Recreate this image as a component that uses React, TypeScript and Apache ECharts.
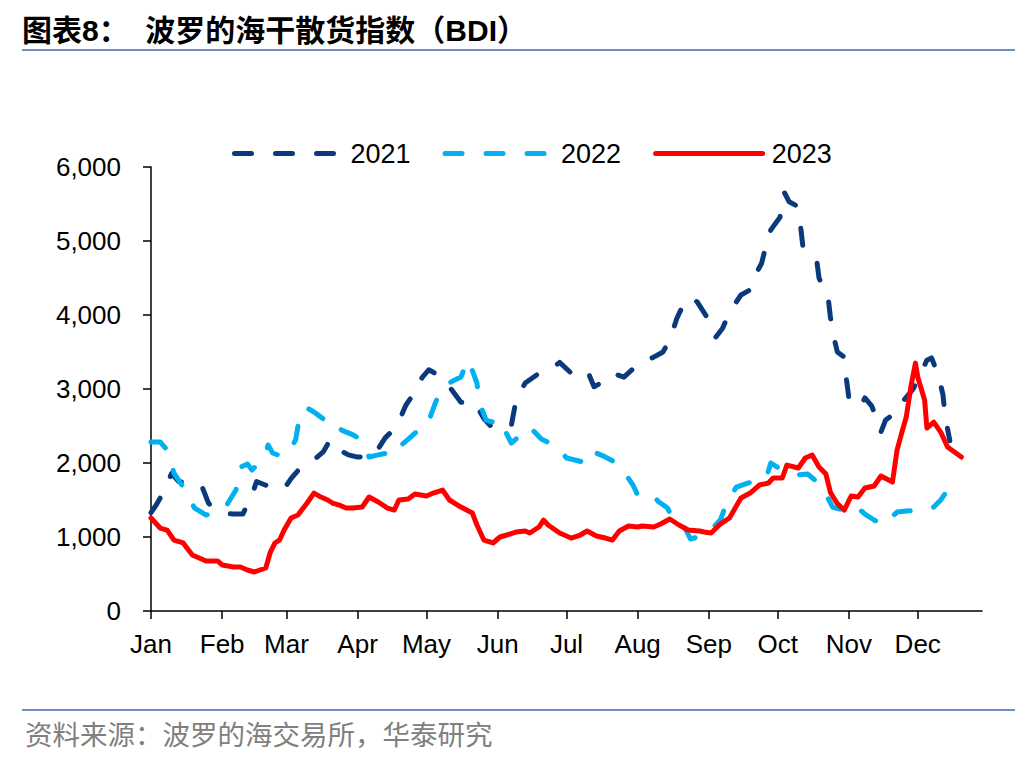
import React, { useEffect, useRef } from "react";
import * as echarts from "echarts";

const monthNames = ["Jan", "Feb", "Mar", "Apr", "May", "Jun", "Jul", "Aug", "Sep", "Oct", "Nov", "Dec"];
const monthStarts = [0, 31, 59, 90, 120, 151, 181, 212, 243, 273, 304, 334];
const lastDay = 362;
const yTicks = [0, 1000, 2000, 3000, 4000, 5000, 6000];

const s2021: [number, number][] = [
  [0, 1330], [2, 1420], [5, 1580], [9, 1860], [12, 1750], [16, 1730], [22, 1700], [25, 1460], [28, 1360],
  [32, 1320], [36, 1310], [40, 1310], [44, 1570], [46, 1750], [50, 1700], [54, 1680], [58, 1650], [61, 1790],
  [66, 1970], [72, 2070], [75, 2150], [78, 2310], [82, 2175], [86, 2110], [90, 2080], [97, 2095], [102, 2340],
  [107, 2490], [111, 2780], [115, 2960], [118, 3150], [121, 3260], [125, 3190], [130, 3030], [135, 2820],
  [141, 2820], [145, 2600], [148, 2500], [151, 2450], [157, 2510], [159, 2850], [163, 3080], [168, 3190],
  [172, 3215], [178, 3360], [183, 3215], [190, 3256], [193, 3030], [197, 3100], [201, 3215], [206, 3160],
  [213, 3360], [219, 3430], [223, 3500], [226, 3660], [229, 3950], [232, 4150], [235, 4240], [238, 4175],
  [243, 3930], [246, 3700], [249, 3820], [252, 4040], [257, 4270], [261, 4340], [262, 4470], [266, 4700],
  [268, 4950], [270, 5150], [274, 5320], [276, 5650], [278, 5530], [281, 5480], [283, 5190], [284, 4920],
  [287, 4850], [290, 4740], [291, 4500], [295, 4230], [296, 3960], [298, 3630], [299, 3500], [302, 3430],
  [303, 3120], [304, 2880], [306, 2800], [309, 2760], [311, 2880], [314, 2770], [316, 2600], [318, 2420],
  [320, 2580], [323, 2650], [326, 2720], [328, 2850], [332, 3000], [335, 3190], [338, 3390], [340, 3420],
  [343, 3190], [345, 2920], [346, 2620], [348, 2300],
];

const s2022: [number, number][] = [
  [0, 2284], [4, 2284], [7, 2175], [10, 1864], [14, 1675], [17, 1500], [19, 1391], [24, 1297], [29, 1330],
  [33, 1432], [37, 1635], [39, 1945], [42, 1986], [44, 1905], [47, 2000], [50, 2135], [51, 2243], [53, 2135],
  [56, 2100], [59, 2108], [63, 2310], [65, 2680], [68, 2743], [71, 2689], [74, 2620], [77, 2553], [79, 2580],
  [83, 2445], [88, 2380], [92, 2310], [95, 2081], [99, 2110], [103, 2135], [106, 2108], [108, 2216],
  [112, 2320], [115, 2405], [120, 2486], [124, 2824], [127, 3026], [131, 3100], [135, 3162], [138, 3390],
  [140, 3250], [142, 3080], [143, 2824], [146, 2580], [149, 2553], [151, 2600], [154, 2450], [157, 2270],
  [162, 2405], [165, 2486], [170, 2324], [173, 2280], [177, 2229], [181, 2067], [186, 2030], [190, 2000],
  [192, 2148], [194, 2135], [198, 2080], [202, 2013], [207, 1837], [210, 1700], [212, 1567], [218, 1581],
  [221, 1480], [225, 1391], [227, 1270], [230, 1229], [233, 1100], [235, 973], [240, 1013], [244, 1100],
  [248, 1229], [251, 1473], [255, 1675], [260, 1729], [264, 1760], [268, 1797], [270, 2000], [275, 1900],
  [280, 1837], [286, 1851], [290, 1750], [293, 1635], [297, 1400], [301, 1370], [304, 1337], [308, 1391],
  [311, 1310], [315, 1230], [319, 1162], [322, 1250], [325, 1337], [329, 1350], [334, 1364], [338, 1364],
  [341, 1405], [344, 1500], [347, 1635], [348, 1729], [351, 1608],
];

const s2023: [number, number][] = [
  [0, 1257], [4, 1121], [7, 1094], [10, 959], [14, 919], [18, 757], [21, 716], [24, 676], [29, 676],
  [31, 622], [36, 594], [39, 594], [42, 554], [45, 527], [50, 581], [52, 797], [54, 919], [56, 959],
  [58, 1094], [61, 1257], [64, 1297], [68, 1459], [71, 1594], [74, 1540], [77, 1500], [79, 1459],
  [82, 1432], [85, 1391], [88, 1391], [92, 1405], [95, 1540], [99, 1473], [103, 1391], [106, 1364],
  [108, 1500], [112, 1513], [115, 1581], [120, 1554], [123, 1594], [127, 1635], [130, 1500], [135, 1405],
  [140, 1324], [142, 1162], [145, 959], [149, 919], [152, 1000], [155, 1027], [159, 1067], [163, 1081],
  [165, 1054], [169, 1135], [171, 1229], [173, 1162], [178, 1054], [183, 986], [187, 1027], [190, 1081],
  [194, 1013], [198, 986], [201, 959], [204, 1081], [208, 1148], [212, 1135], [214, 1148], [219, 1135],
  [222, 1175], [226, 1243], [230, 1162], [234, 1094], [239, 1081], [241, 1067], [244, 1054], [248, 1175],
  [252, 1257], [257, 1527], [261, 1594], [265, 1702], [269, 1729], [271, 1797], [275, 1797], [277, 1972],
  [282, 1932], [285, 2067], [288, 2108], [291, 1945], [294, 1850], [296, 1600], [299, 1450], [302, 1364],
  [305, 1554], [308, 1540], [311, 1662], [315, 1689], [318, 1824], [323, 1743], [325, 2175], [327, 2405],
  [329, 2621], [331, 3026], [333, 3350], [334, 3162], [337, 2851], [338, 2472], [341, 2553], [344, 2418],
  [347, 2216], [350, 2148], [353, 2081],
];

const seriesNames = ["2021", "2022", "2023"];
const seriesColors = ["#0A3A7C", "#00B0F0", "#FF0000"];

const titleText = "图表8：  波罗的海干散货指数（BDI）";
const sourceText = "资料来源：波罗的海交易所，华泰研究";

const LATIN = "'Liberation Sans', Arial, sans-serif";
const CJK = "'Liberation Sans', 'Noto Sans CJK SC', sans-serif";

export default function App() {
  const ref = useRef<HTMLDivElement>(null);
  useEffect(() => {
    if (!ref.current) return;
    const chart = echarts.init(ref.current, null, { renderer: "svg" });
    const categories: string[] = [];
    for (let d = 0; d <= lastDay; d++) {
      const m = monthStarts.indexOf(d);
      categories.push(m >= 0 ? monthNames[m] : "");
    }
    const datas = [s2021, s2022, s2023];
    const option: any = {
      animation: false,
      backgroundColor: "#ffffff",
      grid: { left: 151, right: 54, top: 167, bottom: 149, containLabel: false },
      legend: {
        data: seriesNames,
        left: 232,
        top: 140,
        padding: 0,
        itemWidth: 107,
        itemHeight: 14,
        itemGap: 32,
        itemStyle: { opacity: 0 },
        lineStyle: { width: 5, cap: "round" },
        textStyle: { fontSize: 27, color: "#000", fontFamily: LATIN, padding: [0, 0, 0, 4] },
      },
      xAxis: {
        type: "category",
        data: categories,
        boundaryGap: false,
        axisLine: { lineStyle: { color: "#000", width: 1.5 } },
        axisTick: {
          length: 8,
          lineStyle: { color: "#000", width: 1.5 },
          interval: (i: number, v: string) => v !== "",
        },
        axisLabel: {
          interval: 0,
          margin: 20,
          fontSize: 26,
          color: "#000",
          fontFamily: LATIN,
        },
        splitLine: { show: false },
      },
      yAxis: {
        type: "value",
        min: yTicks[0],
        max: yTicks[yTicks.length - 1],
        interval: 1000,
        axisLine: { show: true, lineStyle: { color: "#000", width: 1.5 } },
        axisTick: { show: true, length: 8, lineStyle: { color: "#000", width: 1.5 } },
        axisLabel: {
          margin: 30,
          fontSize: 26,
          color: "#000",
          fontFamily: LATIN,
          formatter: (v: number) => v.toLocaleString("en-US"),
        },
        splitLine: { show: false },
      },
      series: seriesNames.map((name, i) => ({
        name,
        type: "line",
        data: datas[i],
        symbol: "none",
        smooth: false,
        z: i === 2 ? 5 : 3,
        lineStyle: {
          color: seriesColors[i],
          width: 5,
          type: i === 2 ? "solid" : [17, 24],
          cap: "round",
          join: "round",
        },
        itemStyle: { color: seriesColors[i] },
      })),
      graphic: [
        {
          type: "text",
          left: 22,
          top: 15,
          style: { text: titleText, fontSize: 30, fontWeight: "bold", fill: "#000", fontFamily: CJK },
        },
        {
          type: "line",
          shape: { x1: 22, y1: 50, x2: 1015, y2: 50 },
          style: { stroke: "#6B8CC4", lineWidth: 2 },
        },
        {
          type: "line",
          shape: { x1: 22, y1: 710, x2: 1015, y2: 710 },
          style: { stroke: "#6B8CC4", lineWidth: 2 },
        },
        {
          type: "text",
          left: 25,
          top: 719,
          style: { text: sourceText, fontSize: 27.5, fill: "#808080", fontFamily: "'Noto Sans CJK SC', sans-serif" },
        },
      ],
    };
    chart.setOption(option);
    return () => chart.dispose();
  }, []);
  return (
    <div
      ref={ref}
      style={{ position: "fixed", left: 0, top: 0, width: 1036, height: 760, background: "#fff" }}
    />
  );
}
